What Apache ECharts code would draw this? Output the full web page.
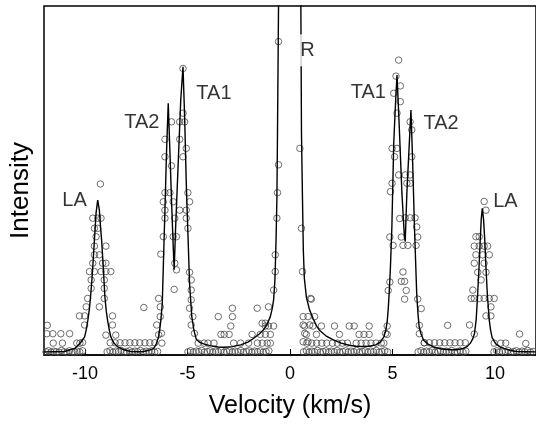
<!DOCTYPE html>
<html>
<head>
<meta charset="utf-8">
<script src="https://cdn.jsdelivr.net/npm/echarts@6/dist/echarts.min.js"></script>
<style>
  html, body { margin: 0; padding: 0; background: #fff; }
  #main { width: 536px; height: 425px; }
</style>
</head>
<body>
<div id="main"></div>
<script>
// axis ticks
var tickValues = [-10, -5, 0, 5, 10];

// fitted curve [velocity, intensity]
var fitLine = [
    [-12, 0.9], [-11.5, 0.95], [-11, 1.0], [-10.5, 1.9], [-10.3, 3.0], [-10.15, 4.0], [-10.02, 5.2],
    [-9.94, 7.2], [-9.86, 10], [-9.79, 13], [-9.73, 16.7], [-9.67, 21], [-9.62, 25.3], [-9.54, 33],
    [-9.46, 40.7], [-9.38, 44.4], [-9.3, 41.5], [-9.24, 36.5], [-9.19, 33], [-9.11, 25.3], [-9.03, 16.7],
    [-8.96, 12.5], [-8.9, 10], [-8.82, 7.3], [-8.74, 5.2], [-8.6, 3.5], [-8.42, 2.4], [-8.1, 1.5],
    [-7.77, 1.0], [-7.4, 0.95], [-7.13, 1.0], [-6.85, 1.4], [-6.65, 1.9], [-6.52, 3.2], [-6.41, 5.2],
    [-6.35, 7.5], [-6.3, 10], [-6.23, 14.8], [-6.18, 25.3], [-6.11, 39.6], [-6.02, 58.7], [-5.94, 72.1],
    [-5.86, 58.7], [-5.78, 44.4], [-5.69, 30], [-5.65, 24.4], [-5.59, 34.9], [-5.46, 54], [-5.33, 73],
    [-5.22, 82.6], [-5.14, 68.3], [-5.06, 49.2], [-4.98, 34.9], [-4.9, 20.5], [-4.79, 11], [-4.7, 7.5],
    [-4.58, 4.6], [-4.4, 3.6], [-4.18, 3.1], [-3.86, 2.6], [-3.5, 2.3], [-3.21, 2.2], [-2.8, 2.4],
    [-2.41, 2.9], [-2.05, 3.7], [-1.77, 4.8], [-1.5, 6.0], [-1.29, 7.2], [-1.1, 9.0], [-0.96, 11],
    [-0.86, 13.5], [-0.8, 15.8], [-0.74, 21], [-0.72, 24.4], [-0.68, 33], [-0.64, 44.4], [-0.61, 63.5],
    [-0.56, 99.8], [-0.45, 150], [-0.25, 250], [0, 320], [0.25, 250], [0.43, 150], [0.53, 99.8],
    [0.56, 63.5], [0.61, 44.4], [0.65, 30], [0.7, 22], [0.8, 16.5], [0.95, 13], [1.12, 10.5],
    [1.3, 8.3], [1.45, 7.0], [1.75, 5.5], [2.09, 4.4], [2.5, 3.4], [2.89, 2.8], [3.2, 2.5],
    [3.53, 2.4], [3.86, 2.5], [4.18, 2.9], [4.4, 3.7], [4.58, 5.2], [4.67, 7], [4.74, 9.5],
    [4.79, 13], [4.84, 18], [4.9, 25.3], [4.97, 36.8], [5.06, 60.7], [5.17, 75], [5.22, 80.2],
    [5.33, 65.4], [5.46, 46.3], [5.58, 33.9], [5.62, 32.5], [5.7, 46.3], [5.82, 60.7], [5.9, 70.2],
    [5.98, 55.9], [6.07, 36.8], [6.18, 17.7], [6.24, 12], [6.3, 8.1], [6.39, 6.1], [6.52, 4.2],
    [6.71, 3.2], [7.0, 2.3], [7.36, 1.8], [7.8, 1.5], [8.16, 1.5], [8.45, 1.9], [8.64, 2.4],
    [8.8, 3.4], [8.92, 4.7], [9.0, 6.2], [9.08, 10], [9.15, 17], [9.22, 25], [9.28, 33],
    [9.33, 39], [9.38, 42], [9.44, 39], [9.5, 33], [9.56, 25], [9.63, 17], [9.72, 10],
    [9.78, 7.3], [9.86, 5.0], [10.04, 3.2], [10.25, 2.3], [10.44, 1.9], [10.75, 1.3], [11.08, 1.0],
    [11.5, 0.95], [12, 0.9]
];

// measured points, bottom rows
var baseDots = [
    [-11.9, 0.9], [-11.78, 1.2], [-11.66, 0.8], [-11.52, 1.1], [-11.4, 0.9], [-11.27, 0.8], [-11.15, 1.3],
    [-11.02, 0.9], [-10.88, 0.8], [-10.76, 1.2], [-10.63, 0.9], [-10.5, 0.8], [-10.38, 1.1], [-10.26, 0.9],
    [-10.12, 1.2],
    [-8.92, 0.9], [-8.78, 1.2], [-8.64, 0.8], [-8.5, 1.1], [-8.37, 0.9], [-8.24, 1.3], [-8.1, 0.8],
    [-7.97, 1.0], [-7.83, 1.2], [-7.7, 0.8], [-7.56, 1.1], [-7.43, 0.9], [-7.3, 1.3], [-7.16, 0.8],
    [-7.02, 1.1], [-6.88, 0.9], [-6.75, 1.2], [-6.6, 0.8], [-6.46, 1.0],
    [-4.98, 0.9], [-4.85, 1.2], [-4.72, 0.8], [-4.58, 1.1], [-4.45, 0.9], [-4.31, 1.3], [-4.18, 0.8],
    [-4.04, 1.0], [-3.9, 1.2], [-3.77, 0.8], [-3.63, 1.1], [-3.5, 0.9], [-3.36, 1.3], [-3.22, 0.8],
    [-3.09, 1.0], [-2.95, 1.2], [-2.81, 0.8], [-2.68, 1.1], [-2.54, 0.9], [-2.4, 1.3], [-2.27, 0.8],
    [-2.13, 1.0], [-2.0, 1.2], [-1.86, 0.8], [-1.72, 1.1], [-1.58, 0.9], [-1.45, 1.2], [-1.31, 0.8],
    [-1.17, 1.0], [-1.03, 1.2],
    [0.66, 0.9], [0.8, 1.2], [0.93, 0.8], [1.07, 1.1], [1.2, 0.9], [1.34, 1.3], [1.48, 0.8],
    [1.61, 1.0], [1.75, 1.2], [1.89, 0.8], [2.02, 1.1], [2.16, 0.9], [2.3, 1.3], [2.43, 0.8],
    [2.57, 1.0], [2.71, 1.2], [2.84, 0.8], [2.98, 1.1], [3.12, 0.9], [3.25, 1.3], [3.39, 0.8],
    [3.53, 1.0], [3.66, 1.2], [3.8, 0.8], [3.94, 1.1], [4.07, 0.9], [4.21, 1.3], [4.35, 0.8],
    [4.48, 1.0], [4.62, 1.2], [4.76, 0.9],
    [6.25, 0.9], [6.39, 1.2], [6.52, 0.8], [6.66, 1.1], [6.8, 0.9], [6.93, 1.3], [7.07, 0.8],
    [7.21, 1.0], [7.34, 1.2], [7.48, 0.8], [7.62, 1.1], [7.75, 0.9], [7.89, 1.3], [8.03, 0.8],
    [8.16, 1.0], [8.3, 1.2], [8.44, 0.8], [8.58, 1.1],
    [9.95, 0.9], [10.09, 1.2], [10.22, 0.8], [10.36, 1.1], [10.5, 0.9], [10.63, 1.3], [10.77, 0.8],
    [10.91, 1.0], [11.04, 1.2], [11.18, 0.8], [11.32, 1.1], [11.45, 0.9], [11.59, 1.3], [11.73, 0.8],
    [11.86, 1.0]
];

// low scatter between the peaks
var lowDots = [
    [-11.84, 8.5], [-11.86, 6.1], [-11.57, 6.1], [-11.18, 6.1], [-10.75, 6.1],
    [-11.55, 3.4], [-11.1, 3.4], [-10.4, 3.4], [-10.25, 3.4], [-10.12, 3.6],
    [-8.77, 3.5], [-8.53, 3.5], [-8.29, 3.5], [-8.05, 3.5], [-7.81, 3.5], [-7.57, 3.5],
    [-7.33, 3.5], [-7.08, 3.5], [-6.84, 3.5], [-6.6, 3.5], [-7.13, 13.6],
    [-3.5, 11.0], [-2.81, 13.4], [-2.81, 11.0], [-1.6, 13.4], [-2.89, 8.3],
    [-3.37, 5.9], [-3.21, 5.9], [-2.97, 5.9], [-1.85, 5.9], [-1.2, 8.3], [-1.05, 8.3], [-0.8, 8.3],
    [-1.45, 5.9], [-1.2, 5.9], [-0.96, 5.9],
    [-4.48, 3.4], [-4.19, 3.4], [-4.0, 3.4], [-3.71, 3.4], [-2.75, 3.4], [-2.41, 3.4], [-2.02, 3.4],
    [-1.59, 3.4], [-1.35, 3.4], [-1.11, 3.4], [-0.96, 3.4],
    [0.72, 8.3], [1.12, 8.3], [1.53, 8.3], [2.17, 8.3], [2.89, 8.3], [3.13, 8.3], [3.86, 8.3], [4.74, 8.3],
    [0.8, 5.9], [1.29, 5.9], [2.41, 5.9], [3.37, 5.9], [3.61, 5.9], [3.86, 5.9], [4.74, 5.9],
    [0.64, 11.0], [0.88, 11.0], [1.2, 11.0], [1.04, 16.0],
    [0.82, 3.4], [1.06, 3.4], [1.3, 3.4], [1.55, 3.4], [1.79, 3.4], [2.07, 3.4], [2.31, 3.4],
    [2.55, 3.4], [2.8, 3.4], [3.23, 3.4], [3.47, 3.4], [3.71, 3.4], [3.95, 3.4], [4.2, 3.4], [4.45, 3.4],
    [7.69, 8.5], [6.55, 3.5], [6.8, 3.5], [7.05, 3.5], [7.3, 3.5], [7.55, 3.5], [7.8, 3.5],
    [8.05, 3.5], [8.3, 3.5], [8.55, 3.5],
    [9.96, 3.4], [10.28, 3.4], [10.52, 3.4], [11.2, 6.0], [11.5, 3.3]
];

// points on the LA lines
var laDots = [
    [-9.25, 49.0], [-9.62, 39.2], [-9.38, 39.2], [-9.22, 39.2], [-9.54, 36.3], [-9.38, 36.3],
    [-9.46, 33.9], [-9.54, 31.2], [-8.98, 31.2], [-9.54, 28.7], [-9.3, 28.7],
    [-9.62, 26.3], [-9.14, 26.3], [-8.98, 26.3],
    [-9.78, 23.9], [-9.54, 23.9], [-9.22, 23.9], [-8.98, 23.9], [-8.74, 23.9],
    [-9.7, 21.5], [-9.06, 21.5], [-9.7, 19.1], [-9.06, 19.1], [-9.87, 16.2], [-9.06, 16.2],
    [-9.94, 13.8], [-9.3, 13.8], [-10.27, 11.2], [-10.02, 11.2], [-8.66, 11.2],
    [-10.02, 8.6], [-8.66, 8.6], [-8.98, 5.7], [-8.5, 5.7],
    [9.47, 44.0], [9.56, 41.5], [9.07, 33.9], [9.23, 33.9],
    [8.99, 31.2], [9.23, 31.2], [9.47, 31.2], [9.64, 31.2],
    [9.07, 28.7], [9.4, 28.7], [9.72, 28.7], [8.99, 26.3], [9.47, 26.3],
    [9.16, 23.7], [9.56, 23.7], [9.32, 21.5], [8.92, 18.6],
    [8.84, 16.2], [8.99, 16.2], [9.23, 16.2], [9.47, 16.2], [9.72, 16.2], [9.96, 16.2],
    [9.8, 13.8], [9.56, 11.2], [9.8, 11.2], [8.76, 8.6], [8.99, 6.0]
];

// points on the TA lines
var taDots = [
    [-6.41, 16.2], [-6.33, 13.8], [-6.33, 11.0], [-6.5, 8.6], [-6.41, 5.8], [-6.27, 6.2], [-6.25, 3.4],
    [-5.22, 82.1], [-5.22, 69.3], [-5.14, 66.8], [-5.38, 66.8], [-5.78, 66.8],
    [-6.1, 61.8], [-5.38, 61.8], [-6.1, 56.8], [-5.22, 56.8], [-5.06, 59.2], [-5.78, 54.2],
    [-6.1, 46.5], [-5.86, 46.5], [-4.98, 46.5], [-6.18, 43.9], [-5.7, 43.9], [-4.9, 43.9],
    [-6.1, 41.5], [-5.38, 41.5], [-5.06, 41.5], [-6.1, 39.2], [-5.62, 39.2], [-5.06, 39.2], [-4.98, 36.3],
    [-6.18, 33.9], [-5.7, 33.9], [-5.54, 33.9], [-6.3, 28.9], [-5.62, 26.3], [-5.54, 24.4], [-5.65, 18.8],
    [-4.9, 23.7], [-4.82, 21.5], [-4.82, 18.6], [-4.82, 15.8], [-4.9, 13.4], [-4.74, 11.0],
    [-4.82, 8.6], [-4.66, 6.2],
    [5.3, 84.5], [5.17, 79.9], [5.38, 77.1], [5.06, 75.0], [5.38, 72.6], [5.22, 69.3],
    [5.86, 66.8], [5.94, 64.5], [4.98, 59.2], [5.22, 59.2], [5.1, 56.8], [5.94, 56.8],
    [5.3, 51.6], [5.62, 51.6], [5.86, 51.6], [5.7, 49.2], [5.86, 49.2], [4.98, 49.2], [4.9, 46.8],
    [5.35, 39.1], [5.62, 39.3], [5.86, 39.3], [6.1, 39.3], [6.18, 36.7],
    [5.43, 33.8], [6.23, 33.8], [5.51, 31.4], [5.75, 31.4], [6.15, 31.4], [4.87, 33.8], [5.03, 31.4],
    [5.51, 23.8], [5.43, 21.1], [5.59, 21.1], [5.67, 18.5], [5.59, 16.0],
    [4.87, 20.9], [4.79, 18.5], [6.23, 16.0], [6.4, 13.3],
    [4.66, 6.2], [4.58, 3.4], [6.31, 8.5], [6.31, 6.1], [6.55, 3.5]
];

// points on the R lines
var rDots = [
    [-0.56, 89.8], [-0.56, 54.5], [-0.61, 46.5], [-0.64, 39.2], [-0.72, 28.7], [-0.72, 23.9],
    [-0.8, 18.6], [-1.05, 13.8], [-1.2, 9.1], [-1.36, 9.1],
    [0.48, 59.2], [0.56, 36.3], [0.61, 23.9], [1.0, 16.2], [0.64, 8.6], [0.96, 8.6],
    [0.72, 6.2], [0.64, 3.8], [0.88, 3.8]
];

// peak labels
var peakNames = ['LA', 'TA2', 'TA1', 'R', 'TA1', 'TA2', 'LA'];
var peakX = [-10.51, -7.23, -3.71, 0.85, 3.82, 7.37, 10.51];
var peakY = [44.3, 66.6, 74.9, 87.3, 75.2, 66.2, 44.1];

var font = 'Liberation Sans, Arial, sans-serif';

var labelData = [];
for (var i = 0; i < peakNames.length; i++) {
    labelData.push({ name: peakNames[i], value: [peakX[i], peakY[i]] });
}

var option = {
    animation: false,
    grid: {
        left: 42,
        top: 6,
        width: 498,
        height: 349,
        show: true,
        borderColor: '#000',
        borderWidth: 1.5
    },
    xAxis: {
        type: 'value',
        min: -12,
        max: 12,
        name: 'Velocity (km/s)',
        nameLocation: 'middle',
        nameGap: 39,
        nameTextStyle: { fontSize: 25, color: '#000', fontFamily: font },
        axisLine: { show: true, lineStyle: { color: '#000', width: 1.5 } },
        axisTick: {
            show: true,
            inside: true,
            length: 6,
            customValues: tickValues,
            lineStyle: { color: '#000', width: 1 }
        },
        axisLabel: {
            customValues: tickValues,
            fontSize: 18,
            color: '#000',
            margin: 10,
            fontFamily: font
        },
        splitLine: { show: false }
    },
    yAxis: {
        type: 'value',
        min: 0,
        max: 100,
        name: 'Intensity',
        nameLocation: 'middle',
        nameGap: 10,
        nameTextStyle: { fontSize: 26, color: '#000', fontFamily: font, padding: [0, 20, 0, 0] },
        // border comes from the grid, no line at x = 0
        axisLine: { show: false },
        axisTick: { show: false },
        axisLabel: { show: false },
        splitLine: { show: false }
    },
    series: [{
        name: 'data',
        type: 'scatter',
        data: baseDots.concat(lowDots, laDots, taDots, rDots),
        symbol: 'circle',
        symbolSize: 6.5,
        itemStyle: { color: 'rgba(0,0,0,0)', borderColor: '#4a4a4a', borderWidth: 1 },
        z: 2
    }, {
        name: 'fit',
        type: 'line',
        data: fitLine,
        showSymbol: false,
        smooth: false,
        lineStyle: { color: '#000', width: 1.4 },
        clip: true,
        z: 3
    }, {
        name: 'labels',
        type: 'scatter',
        data: labelData,
        symbolSize: 0,
        silent: true,
        z: 6,
        label: {
            show: true,
            position: 'inside',
            formatter: '{b}',
            fontSize: 20,
            color: '#000',
            fontFamily: font,
            backgroundColor: '#fff',
            padding: [6, 3, 6, 3]
        }
    }]
};

var myChart = echarts.init(document.getElementById('main'));
myChart.setOption(option);
</script>
</body>
</html>
